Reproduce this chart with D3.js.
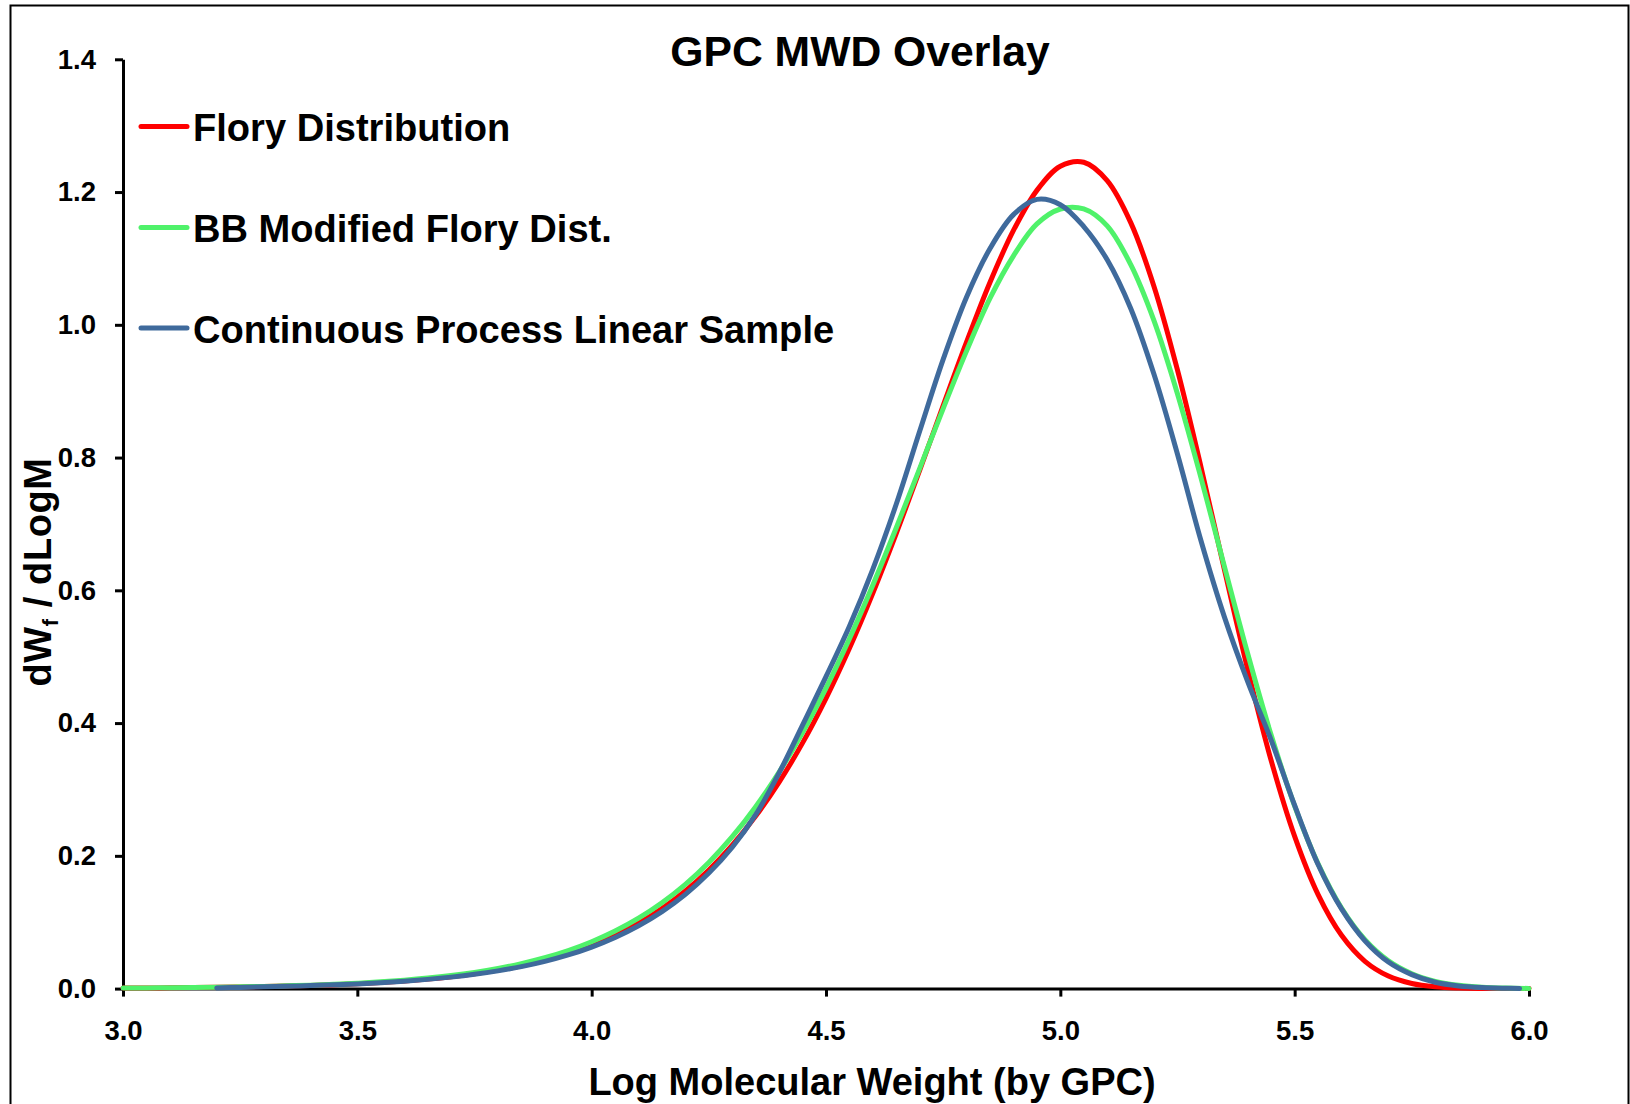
<!DOCTYPE html>
<html><head><meta charset="utf-8">
<script src="https://cdn.jsdelivr.net/npm/d3@7/dist/d3.min.js"></script>
<style>
body{margin:0;background:#fff}
svg{display:block}
text{font-family:"Liberation Sans",Arial,sans-serif;font-weight:bold;fill:#000}
</style>
</head><body>
<svg id="chart" width="1630" height="1104"></svg>
<script>
// ---------- data ----------
const chartTitle = "GPC MWD Overlay";
const xTitle = "Log Molecular Weight (by GPC)";
const seriesNames = ["Flory Distribution", "BB Modified Flory Dist.", "Continuous Process Linear Sample"];
const xTicks = [3.0, 3.5, 4.0, 4.5, 5.0, 5.5, 6.0];
const yTicks = [0.0, 0.2, 0.4, 0.6, 0.8, 1.0, 1.2, 1.4];

// log M grid shared by the two model curves (3.00 .. 6.00)
const logM = [3.00,3.05,3.10,3.15,3.20,3.25,3.30,3.35,3.40,3.45,
  3.50,3.55,3.60,3.65,3.70,3.75,3.80,3.85,3.90,3.95,
  4.00,4.05,4.10,4.15,4.20,4.25,4.30,4.35,4.40,4.45,
  4.50,4.55,4.60,4.65,4.70,4.75,4.80,4.85,4.90,4.95,
  5.00,5.05,5.10,5.15,5.20,5.25,5.30,5.35,5.40,5.45,
  5.50,5.55,5.60,5.65,5.70,5.75,5.80,5.85,5.90,5.95,6.00];

const floryDist = [0.00077,0.00097,0.00121,0.00152,0.00191,0.00240,0.00301,0.00377,0.00472,0.00591,
  0.00740,0.00924,0.01154,0.01440,0.01795,0.02235,0.02778,0.03448,0.04272,0.05283,
  0.06518,0.08023,0.09849,0.12053,0.14699,0.17857,0.21597,0.25995,0.31115,0.37019,
  0.43738,0.51280,0.59601,0.68601,0.78103,0.87832,0.97416,1.06413,1.14222,1.20252,
  1.23892,1.24497,1.21722,1.15432,1.05745,0.93160,0.78614,0.63136,0.48023,0.34323,
  0.22922,0.14153,0.08025,0.04114,0.01895,0.00773,0.00275,0.00084,0.00021,0.00005,0.00001];

const bbModFlory = [0.00085,0.00107,0.00134,0.00168,0.00211,0.00265,0.00332,0.00416,0.00521,0.00652,
  0.00814,0.01017,0.01269,0.01582,0.01968,0.02446,0.03036,0.03760,0.04648,0.05735,
  0.07061,0.08665,0.10602,0.12932,0.15712,0.19006,0.22881,0.27401,0.32618,0.38571,
  0.45276,0.52710,0.60804,0.69428,0.78382,0.87384,0.96072,1.04004,1.10400,1.15200,
  1.17450,1.17450,1.14900,1.09100,1.00592,0.89586,0.76978,0.63620,0.50407,0.38157,
  0.27497,0.18793,0.12134,0.07371,0.04194,0.02247,0.01098,0.00505,0.00214,0.00083,0.00029];

// measured sample (3.20 .. 5.98)
const sampleLogM = [3.20,3.25,3.30,3.35,3.40,3.45,3.50,3.55,3.60,3.65,
  3.70,3.75,3.80,3.85,3.90,3.95,4.00,4.05,4.10,4.15,
  4.20,4.25,4.30,4.35,4.40,4.45,4.50,4.55,4.60,4.65,
  4.70,4.75,4.80,4.85,4.90,4.95,5.00,5.05,5.10,5.15,
  5.20,5.25,5.30,5.35,5.40,5.45,5.50,5.55,5.60,5.65,
  5.70,5.75,5.80,5.85,5.90,5.95,5.98];
const sampleVals = [0.0010,0.0018,0.0026,0.0035,0.0045,0.0057,0.0071,0.0089,0.0111,0.0139,
  0.0173,0.0215,0.0267,0.0331,0.0410,0.0507,0.0626,0.0771,0.0947,0.1160,
  0.1420,0.1740,0.2130,0.2620,0.3250,0.3970,0.4700,0.5460,0.6320,0.7300,
  0.8400,0.9480,1.0420,1.1150,1.1660,1.1890,1.1810,1.1480,1.0980,1.0250,
  0.9250,0.8050,0.6750,0.5600,0.4620,0.3740,0.2760,0.1870,0.1200,0.0720,
  0.0400,0.0210,0.0095,0.0040,0.0015,0.0005,0.0002];

const colors = ["#ff0000", "#4ff26a", "#3f6a9c"];

// ---------- drawing ----------
const svg = d3.select("#chart");
const x = d3.scaleLinear().domain([3, 6]).range([123, 1529]);
const y = d3.scaleLinear().domain([0, 1.4]).range([988.6, 59.3]);

svg.append("rect").attr("x", 10.5).attr("y", 5.5).attr("width", 1618).attr("height", 1120)
  .attr("fill", "none").attr("stroke", "#000").attr("stroke-width", 2);

const series = [
  logM.map((v, i) => [v, floryDist[i]]),
  logM.map((v, i) => [v, bbModFlory[i]]),
  sampleLogM.map((v, i) => [v, sampleVals[i]])
];

const line = d3.line().x(d => x(d[0])).y(d => y(d[1])).curve(d3.curveCatmullRom.alpha(0.5));

// axes
const yAxis = d3.axisLeft(y).tickValues(yTicks).tickFormat(d3.format(".1f"))
  .tickSize(8).tickSizeOuter(0).tickPadding(19);
const xAxis = d3.axisBottom(x).tickValues(xTicks).tickFormat(d3.format(".1f"))
  .tickSize(8).tickSizeOuter(0).tickPadding(24);

const gy = svg.append("g").attr("transform", `translate(${x(3)},0)`).call(yAxis);
const gx = svg.append("g").attr("transform", `translate(0,${y(0)})`).call(xAxis);
[gx, gy].forEach(g => {
  g.select(".domain").attr("stroke", "#000").attr("stroke-width", 3);
  g.selectAll(".tick line").attr("stroke", "#000").attr("stroke-width", 3);
  g.selectAll(".tick text").attr("font-size", 27.5).attr("font-family", "Liberation Sans, Arial, sans-serif")
    .attr("font-weight", "bold").attr("fill", "#000");
});

// series lines
svg.append("g").selectAll("path").data(series).join("path")
  .attr("d", line).attr("fill", "none")
  .attr("stroke", (d, i) => colors[i]).attr("stroke-width", 5)
  .attr("stroke-linejoin", "round").attr("stroke-linecap", "round");

// title
svg.append("text").attr("x", 860).attr("y", 66).attr("text-anchor", "middle")
  .attr("font-size", 42.7).text(chartTitle);

// x title
svg.append("text").attr("x", 872).attr("y", 1095).attr("text-anchor", "middle")
  .attr("font-size", 38).text(xTitle);

// y title
const yt = svg.append("text").attr("transform", "translate(51,572) rotate(-90)")
  .attr("text-anchor", "middle").attr("font-size", 38).attr("letter-spacing", 0.6);
yt.append("tspan").text("dW");
yt.append("tspan").attr("font-size", 22).attr("dy", 7).text("f");
yt.append("tspan").attr("dy", -7).text(" / dLogM");

// legend
const legY = [126.5, 227.5, 328];
const leg = svg.append("g").selectAll("g").data(seriesNames).join("g");
leg.append("line").attr("x1", 141).attr("x2", 187)
  .attr("y1", (d, i) => legY[i]).attr("y2", (d, i) => legY[i])
  .attr("stroke", (d, i) => colors[i]).attr("stroke-width", 5).attr("stroke-linecap", "round");
leg.append("text").attr("x", 193).attr("y", (d, i) => legY[i] + 14.5)
  .attr("font-size", 38.1).text(d => d);
</script>
</body></html>
